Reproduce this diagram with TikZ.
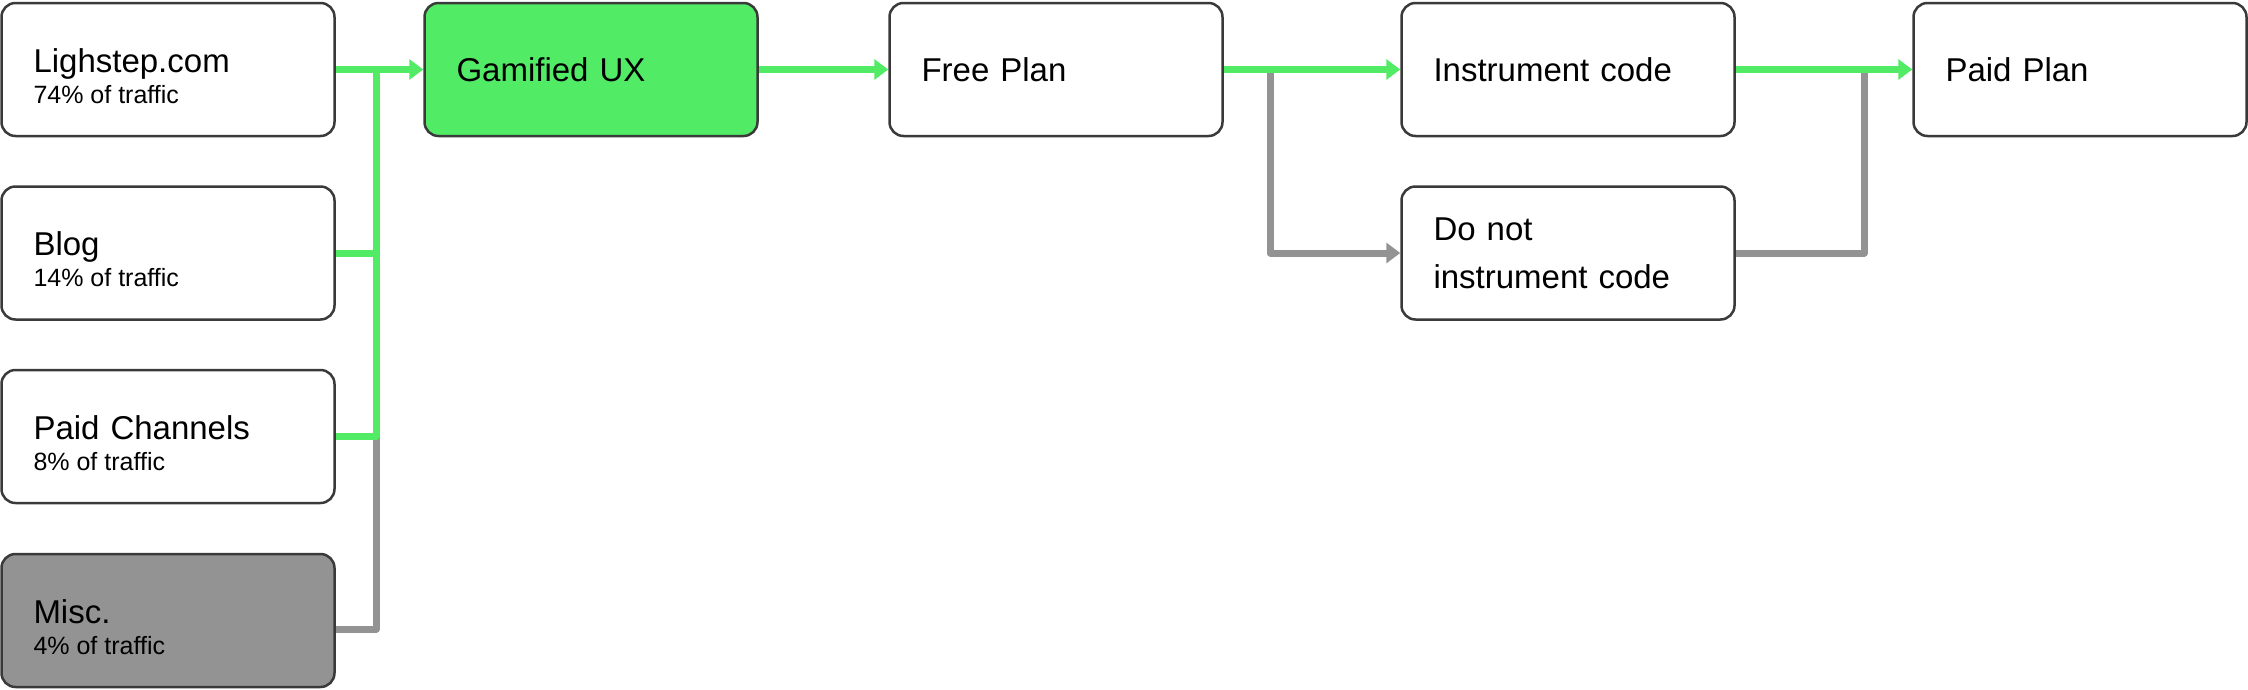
\documentclass[tikz,border=0pt]{standalone}
\usepackage{fontspec}
\setmainfont{Liberation Sans}
\usetikzlibrary{arrows.meta}
\definecolor{grn}{HTML}{52EB66}
\definecolor{gry}{HTML}{939393}
\definecolor{edge}{HTML}{3A3A3A}
\newcommand\trafficfont{\fontsize{25}{31}\selectfont\spaceskip=0pt\xspaceskip=0pt}
\newcommand\titleline[2]{\rule{0pt}{37pt}#1\\[-9pt]\trafficfont #2}
\begin{document}
\begin{tikzpicture}[x=1pt,y=-1pt,
  box/.style={draw=edge, line width=2.5pt, rounded corners=14pt, fill=white,
    minimum width=333pt, minimum height=133pt, text width=269pt,
    inner xsep=32pt, inner ysep=0pt, align=left,
    font=\fontsize{33}{40}\selectfont, text=black},
  twoline/.style={font=\fontsize{33}{48}\selectfont},
  conn/.style={line width=7pt, line join=round},
  green/.style={conn, draw=grn},
  gray/.style={conn, draw=gry},
  tip/.style={-{Triangle[length=14pt,width=20pt]}}
]
\useasboundingbox (0,0) rectangle (2248,689);
% boxes
\node[box] (L1) at (168,69.5) {\titleline{Lighstep.com}{74\% of traffic}};
\node[box] (BL) at (168,253) {\titleline{Blog}{14\% of traffic}};
\node[box] (PC) at (168,436.5) {\titleline{Paid Channels}{8\% of traffic}};
\node[box, fill=gry] (MI) at (168,620.5) {\titleline{Misc.}{4\% of traffic}};
\node[box, fill=grn] (GX) at (591,69.5) {Gamified UX};
\node[box] (FP) at (1056,69.5) {Free Plan};
\node[box] (IC) at (1568,69.5) {Instrument code};
\node[box, twoline] (DN) at (1568,253) {Do not\\instrument code};
\node[box] (PP) at (2080,69.5) {Paid Plan};
% bus coordinates
\coordinate (b1t) at (376,69.5);
\coordinate (b1m) at (376,253);
\coordinate (b1p) at (376,436.5);
\coordinate (b1b) at (376,629);
\coordinate (c1t) at (1270,69.5);
\coordinate (c1b) at (1270,253);
\coordinate (d1t) at (1864,69.5);
\coordinate (d1b) at (1864,253);
% gray connectors
\draw[gray] (b1b -| MI.east) -- (b1b) -- (b1p);
\draw[gray, tip] (c1t) -- (c1b) -- (DN.west);
\draw[gray] (DN.east) -- (d1b) -- (d1t);
% green connectors
\draw[green] (PC.east) -- (b1p) -- (b1t);
\draw[green] (BL.east) -- (b1m);
\draw[green, tip] (L1.east) -- (GX.west);
\draw[green, tip] (GX.east) -- (FP.west);
\draw[green, tip] (FP.east) -- (IC.west);
\draw[green, tip] (IC.east) -- (PP.west);
\end{tikzpicture}
\end{document}
